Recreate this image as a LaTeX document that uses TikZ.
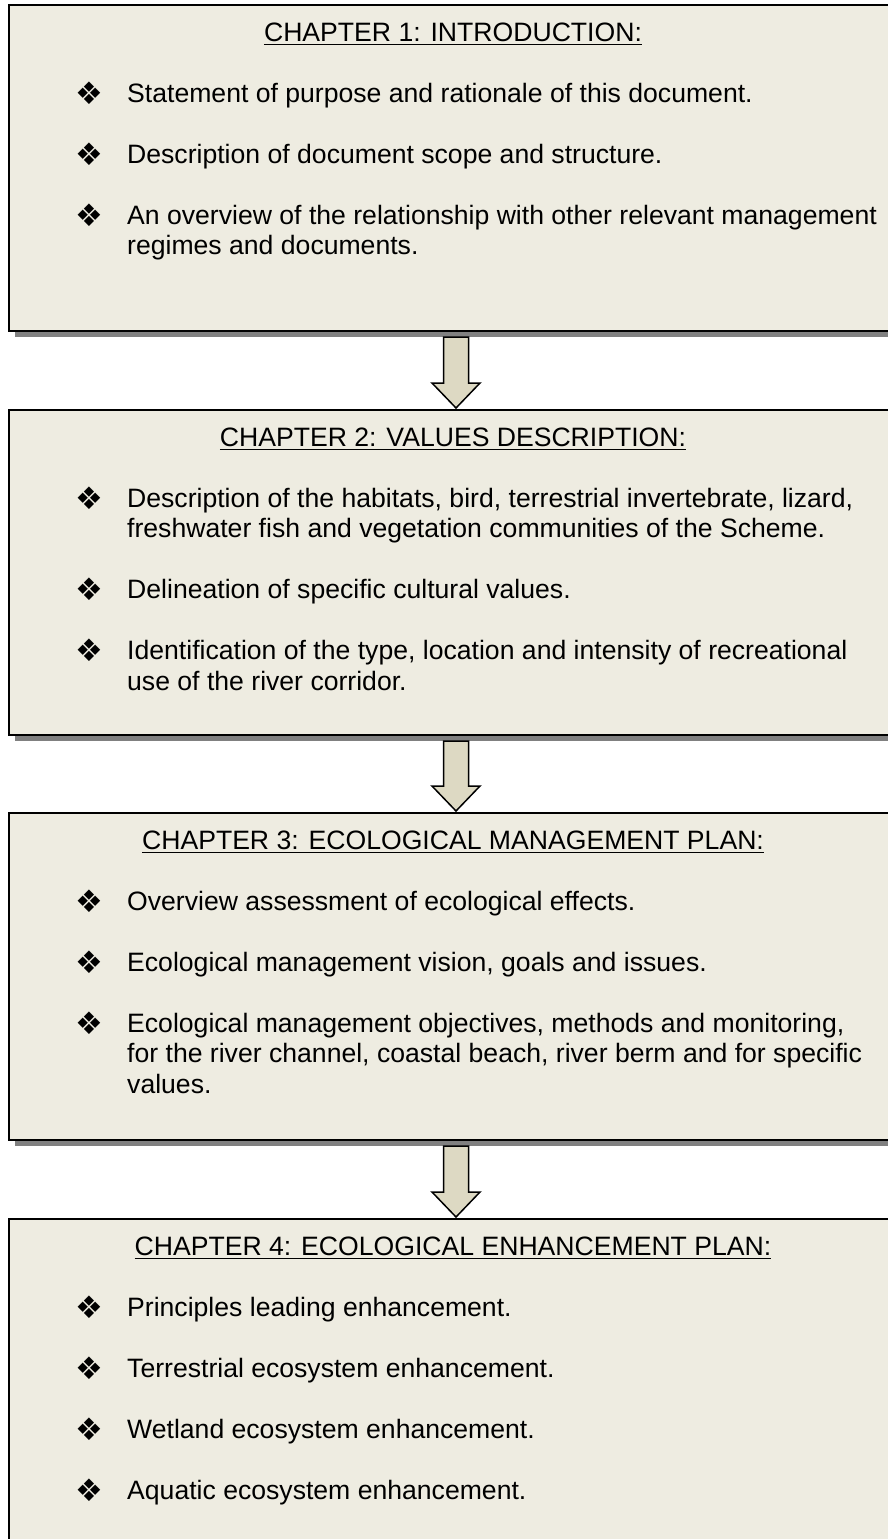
\documentclass[tikz,border=0pt]{standalone}
\usepackage{fontspec}
\setmainfont{Liberation Sans}
\newfontfamily\dingfont{DejaVu Sans}
\usetikzlibrary{shadows,calc}

\definecolor{boxfill}{HTML}{EEECE1}
\definecolor{arrowfill}{HTML}{DDD9C3}
\definecolor{shadowgray}{HTML}{808080}

\tikzset{
  chapterbox/.style={rectangle, draw=black, line width=2pt, fill=boxfill,
    inner sep=0pt, outer sep=0pt, minimum width=888pt,
    drop shadow={shadow xshift=5.5pt, shadow yshift=-5.5pt, opacity=1, fill=shadowgray}},
  heading/.style={anchor=base, inner sep=0pt, font=\fontsize{26.6}{30.6}\selectfont},
  % multi-line items: the base anchor sits on the last line
  item/.style={anchor=base west, inner sep=0pt, align=left, font=\fontsize{26.6}{30.6}\selectfont},
  bullet/.style={anchor=base, inner sep=0pt, yshift=-2pt, font=\dingfont\fontsize{31}{34}\selectfont},
  headrule/.style={line width=1.6pt},
  flowarrow/.style={draw=black, line width=1.5pt, fill=arrowfill, line join=miter},
}

% block arrow from the bottom of box #1 to the top of box #2
\newcommand{\chapterarrow}[2]{%
  \draw[flowarrow] let \p1=(#1.south), \p2=(#2.north) in
    (\x1+3pt-12.5pt,\y1-6pt) -- (\x1+3pt+12.5pt,\y1-6pt) -- (\x1+3pt+12.5pt,\y2+27pt)
    -- (\x1+3pt+24pt,\y2+27pt) -- (\x1+3pt,\y2+2pt) -- (\x1+3pt-24pt,\y2+27pt)
    -- (\x1+3pt-12.5pt,\y2+27pt) -- cycle;}

% underline below a heading node
\newcommand{\headline}[1]{%
  \draw[headrule] ([yshift=-3.6pt]#1.base west) -- ([yshift=-3.6pt]#1.base east);}

\begin{document}
\begin{tikzpicture}[x=1pt, y=-1pt]
\useasboundingbox (0,0) rectangle (888,1539);
\clip (0,0) rectangle (888,1539);

% chapter boxes
\node[chapterbox, minimum height=326pt] (b1) at (453,168) {};
\node[chapterbox, minimum height=325pt] (b2) at (453,572.5) {};
\node[chapterbox, minimum height=327pt] (b3) at (453,976.5) {};
\node[chapterbox, minimum height=351pt] (b4) at (453,1394.5) {};

% arrows between chapters
\chapterarrow{b1}{b2}
\chapterarrow{b2}{b3}
\chapterarrow{b3}{b4}

% chapter 1
\node[heading] (h1) at (453,41) {CHAPTER 1: INTRODUCTION:};
\headline{h1}
\node[bullet] (d11) at (89.5,102) {❖};
\node[item] (t11) at (127,102) {Statement of purpose and rationale of this document.};
\node[bullet] (d12) at (89.5,163) {❖};
\node[item] (t12) at (127,163) {Description of document scope and structure.};
\node[bullet] (d13) at (89.5,224) {❖};
\node[item] (t13) at (127,254.6) {An overview of the relationship with other relevant management\\regimes and documents.};

% chapter 2
\node[heading] (h2) at (453,446) {CHAPTER 2: VALUES DESCRIPTION:};
\headline{h2}
\node[bullet] (d21) at (89.5,507) {❖};
\node[item] (t21) at (127,537.6) {Description of the habitats, bird, terrestrial invertebrate, lizard,\\freshwater fish and vegetation communities of the Scheme.};
\node[bullet] (d22) at (89.5,598.5) {❖};
\node[item] (t22) at (127,598.5) {Delineation of specific cultural values.};
\node[bullet] (d23) at (89.5,659.5) {❖};
\node[item] (t23) at (127,690.1) {Identification of the type, location and intensity of recreational\\use of the river corridor.};

% chapter 3
\node[heading] (h3) at (453,849) {CHAPTER 3: ECOLOGICAL MANAGEMENT PLAN:};
\headline{h3}
\node[bullet] (d31) at (89.5,910) {❖};
\node[item] (t31) at (127,910) {Overview assessment of ecological effects.};
\node[bullet] (d32) at (89.5,971) {❖};
\node[item] (t32) at (127,971) {Ecological management vision, goals and issues.};
\node[bullet] (d33) at (89.5,1032) {❖};
\node[item] (t33) at (127,1093.2) {Ecological management objectives, methods and monitoring,\\for the river channel, coastal beach, river berm and for specific\\values.};

% chapter 4
\node[heading] (h4) at (453,1255) {CHAPTER 4: ECOLOGICAL ENHANCEMENT PLAN:};
\headline{h4}
\node[bullet] (d41) at (89.5,1316) {❖};
\node[item] (t41) at (127,1316) {Principles leading enhancement.};
\node[bullet] (d42) at (89.5,1377) {❖};
\node[item] (t42) at (127,1377) {Terrestrial ecosystem enhancement.};
\node[bullet] (d43) at (89.5,1438) {❖};
\node[item] (t43) at (127,1438) {Wetland ecosystem enhancement.};
\node[bullet] (d44) at (89.5,1499) {❖};
\node[item] (t44) at (127,1499) {Aquatic ecosystem enhancement.};
\end{tikzpicture}
\end{document}
